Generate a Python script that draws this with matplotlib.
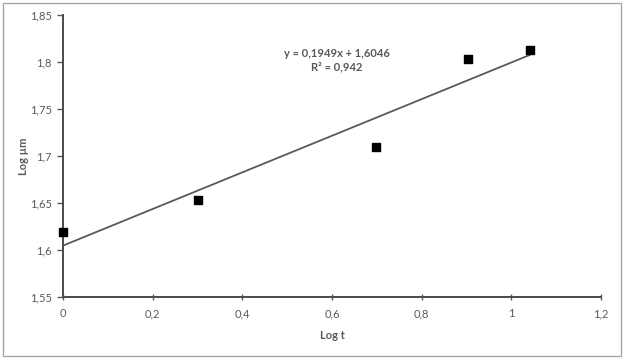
import numpy as np
import matplotlib
matplotlib.use("Agg")
import matplotlib.pyplot as plt
from matplotlib.patches import Rectangle

# data
log_t = [0.0, 0.301, 0.699, 0.903, 1.041]
log_um = [1.619, 1.653, 1.710, 1.803, 1.813]
slope = 0.1949
intercept = 1.6046

plt.rcParams['font.family'] = ['Lato', 'DejaVu Sans']
grey = "#595959"

fig = plt.figure(figsize=(6.24, 3.59), dpi=100)
ax = fig.add_axes([0.101, 0.173, 0.862, 0.785])

# trendline
xt = np.array([log_t[0], log_t[-1]])
ax.plot(xt, slope * xt + intercept, color=grey, lw=1.3, zorder=2)
ax.scatter(log_t, log_um, marker="s", s=30, color="black", zorder=3, clip_on=False)

ax.set_xlim(0, 1.2)
ax.set_ylim(1.55, 1.85)
ax.set_xticks(np.arange(0, 1.21, 0.2))
ax.set_yticks(np.arange(1.55, 1.851, 0.05))
fmt = lambda v: ("%g" % round(v, 2)).replace(".", ",")
ax.set_xticklabels([fmt(v) for v in ax.get_xticks()])
ax.set_yticklabels([fmt(v) for v in ax.get_yticks()])
ax.tick_params(axis="both", colors=grey, labelsize=8, length=4, width=1)
ax.tick_params(axis="x", direction="inout", pad=6)
ax.tick_params(axis="y", direction="out", pad=4)

for s in ["top", "right"]:
    ax.spines[s].set_visible(False)
for s in ["left", "bottom"]:
    ax.spines[s].set_color("#4a4a4a")
    ax.spines[s].set_linewidth(1.4)

ax.set_xlabel("Log t", color=grey, fontsize=8, fontweight="bold", labelpad=8)
ax.set_ylabel("Log µm", color=grey, fontsize=8, fontweight="bold", labelpad=1)

ax.text(0.61, 1.802, "y = 0,1949x + 1,6046\nR² = 0,942", color=grey, fontsize=8,
        fontweight="bold", ha="center", va="center", linespacing=1.3)

fig.patches.append(Rectangle((0.005, 0.008), 0.99, 0.985, transform=fig.transFigure,
                             fill=False, edgecolor="#a6a6a6", lw=1))

fig.savefig("out.png", dpi=100)
